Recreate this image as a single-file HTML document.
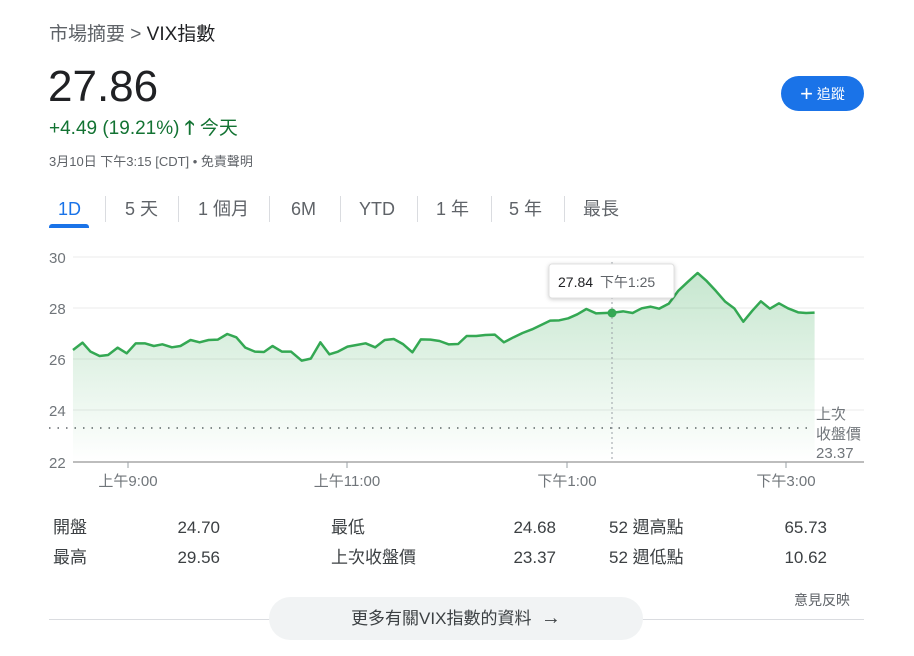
<!DOCTYPE html>
<html><head><meta charset="utf-8"><style>
body{margin:0;width:914px;height:656px;background:#fff;font-family:"Liberation Sans","Noto Sans CJK TC",sans-serif;position:relative;overflow:hidden;color:#202124}
.a{position:absolute;white-space:nowrap}
.tab{position:absolute;top:198px;font-size:18px;line-height:22px;color:#5f6368}
.sep{position:absolute;top:196px;width:1px;height:26px;background:#dadce0}
.st{position:absolute;font-size:17px;line-height:22px;color:#3c4043}
.r{text-align:right}
</style></head><body>
<div class="a" style="left:49px;top:22px;font-size:19px;line-height:26px;color:#5f6368">市場摘要 &gt; <span style="color:#202124">VIX指數</span></div>
<div class="a" style="left:48px;top:62px;font-size:44px;line-height:50px;color:#202124">27.86</div>
<div class="a" style="left:49px;top:117px;font-size:19px;line-height:24px;color:#137333">+4.49 (19.21%) <span style="font-weight:bold">🡑</span> 今天</div>
<div class="a" style="left:49px;top:153px;font-size:13px;line-height:18px;color:#5f6368">3月10日 下午3:15 [CDT] • 免責聲明</div>
<div class="a" style="left:781px;top:76px;width:83px;height:35px;border-radius:18px;background:#1a73e8;color:#fff;font-size:14px;line-height:35px;text-align:center"><span style="font-size:22px;vertical-align:-2px">+</span> 追蹤</div>
<div class="tab" style="left:58px;color:#1a73e8">1D</div>
<div class="a" style="left:49px;top:224px;width:40px;height:4px;background:#1a73e8;border-radius:3px 3px 0 0"></div>
<div class="sep" style="left:105px"></div><div class="tab" style="left:125px">5 天</div>
<div class="sep" style="left:178px"></div><div class="tab" style="left:198px">1 個月</div>
<div class="sep" style="left:269px"></div><div class="tab" style="left:291px">6M</div>
<div class="sep" style="left:340px"></div><div class="tab" style="left:359px">YTD</div>
<div class="sep" style="left:417px"></div><div class="tab" style="left:436px">1 年</div>
<div class="sep" style="left:491px"></div><div class="tab" style="left:509px">5 年</div>
<div class="sep" style="left:564px"></div><div class="tab" style="left:583px">最長</div>

<svg class="a" style="left:0;top:0" width="914" height="656">
<defs><linearGradient id="g" x1="0" y1="0" x2="0" y2="1"><stop offset="0" stop-color="#34a853" stop-opacity="0.28"/><stop offset="1" stop-color="#34a853" stop-opacity="0"/></linearGradient></defs>
<g stroke="#ebebeb" stroke-width="1">
<line x1="73" y1="257" x2="864" y2="257"/><line x1="73" y1="308" x2="864" y2="308"/><line x1="73" y1="359" x2="864" y2="359"/><line x1="73" y1="410" x2="864" y2="410"/>
</g>
<line x1="49" y1="428" x2="812" y2="428" stroke="#5f6368" stroke-width="1.5" stroke-dasharray="1.5 7"/>
<line x1="73" y1="462" x2="864" y2="462" stroke="#bdbdbd" stroke-width="2"/>
<g stroke="#9aa0a6" stroke-width="1"><line x1="128" y1="462" x2="128" y2="468"/><line x1="347" y1="462" x2="347" y2="468"/><line x1="567" y1="462" x2="567" y2="468"/><line x1="786" y1="462" x2="786" y2="468"/></g>
<g font-size="15" fill="#70757a" font-family="Liberation Sans,Noto Sans CJK TC,sans-serif">
<text x="49" y="263">30</text><text x="49" y="314">28</text><text x="49" y="365">26</text><text x="49" y="416">24</text><text x="49" y="468">22</text>
<text x="128" y="486" text-anchor="middle">上午9:00</text><text x="347" y="486" text-anchor="middle">上午11:00</text><text x="567" y="486" text-anchor="middle">下午1:00</text><text x="786" y="486" text-anchor="middle">下午3:00</text>
<text x="816" y="419">上次</text><text x="816" y="439">收盤價</text><text x="816" y="458">23.37</text>
</g>
<g transform="translate(40,240) scale(0.532,0.3333)">
<polygon fill="url(#g)" points="62,666 62,330 80,308 95,335 112,348 128,345 146,323 163,340 180,310 197,310 214,318 230,313 248,322 264,318 283,300 300,307 317,300 334,299 352,282 369,292 386,323 404,335 421,336 437,318 455,335 472,335 492,362 509,356 527,307 544,343 560,335 578,320 595,315 612,310 630,322 648,300 665,297 682,312 700,337 716,298 734,299 751,303 768,313 786,312 802,288 820,288 837,285 855,284 872,307 890,292 907,279 925,268 942,255 959,242 976,241 993,235 1010,223 1027,207 1045,220 1062,219 1078,218 1096,214 1114,219 1131,205 1148,200 1164,206 1182,191 1200,152 1218,125 1236,99 1253,123 1270,152 1288,185 1305,205 1322,245 1339,212 1355,184 1372,206 1389,190 1406,205 1425,217 1440,219 1456,218 1456,666"/>
<polyline fill="none" stroke="#34a853" stroke-width="2.5" vector-effect="non-scaling-stroke" stroke-linejoin="round" points="62,330 80,308 95,335 112,348 128,345 146,323 163,340 180,310 197,310 214,318 230,313 248,322 264,318 283,300 300,307 317,300 334,299 352,282 369,292 386,323 404,335 421,336 437,318 455,335 472,335 492,362 509,356 527,307 544,343 560,335 578,320 595,315 612,310 630,322 648,300 665,297 682,312 700,337 716,298 734,299 751,303 768,313 786,312 802,288 820,288 837,285 855,284 872,307 890,292 907,279 925,268 942,255 959,242 976,241 993,235 1010,223 1027,207 1045,220 1062,219 1078,218 1096,214 1114,219 1131,205 1148,200 1164,206 1182,191 1200,152 1218,125 1236,99 1253,123 1270,152 1288,185 1305,205 1322,245 1339,212 1355,184 1372,206 1389,190 1406,205 1425,217 1440,219 1456,218"/>
</g>
<line x1="612" y1="262" x2="612" y2="462" stroke="#9aa0a6" stroke-width="1" stroke-dasharray="2 3"/>
<circle cx="612" cy="313" r="4.5" fill="#34a853"/>
<rect x="549" y="264" width="125" height="34" rx="3" fill="#fff" stroke="#e0e0e0" style="filter:drop-shadow(0 1px 2px rgba(0,0,0,.2))"/>
<text x="558" y="287" font-size="14" fill="#202124" font-family="Liberation Sans,Noto Sans CJK TC,sans-serif">27.84 <tspan fill="#5f6368" dx="3">下午1:25</tspan></text>
</svg>

<div class="st" style="left:53px;top:517px">開盤</div><div class="st r" style="left:150px;width:70px;top:517px">24.70</div>
<div class="st" style="left:53px;top:547px">最高</div><div class="st r" style="left:150px;width:70px;top:547px">29.56</div>
<div class="st" style="left:331px;top:517px">最低</div><div class="st r" style="left:486px;width:70px;top:517px">24.68</div>
<div class="st" style="left:331px;top:547px">上次收盤價</div><div class="st r" style="left:486px;width:70px;top:547px">23.37</div>
<div class="st" style="left:609px;top:517px">52 週高點</div><div class="st r" style="left:757px;width:70px;top:517px">65.73</div>
<div class="st" style="left:609px;top:547px">52 週低點</div><div class="st r" style="left:757px;width:70px;top:547px">10.62</div>
<div class="a" style="left:794px;top:591px;font-size:14px;line-height:18px;color:#5f6368">意見反映</div>
<div class="a" style="left:49px;top:619px;width:815px;height:1px;background:#dadce0"></div>
<div class="a" style="left:269px;top:597px;width:374px;height:43px;border-radius:22px;background:#f1f3f4;font-size:17px;line-height:43px;text-align:center;color:#3c4043">更多有關VIX指數的資料 &nbsp;<span style="font-size:20px">→</span></div>
</body></html>
